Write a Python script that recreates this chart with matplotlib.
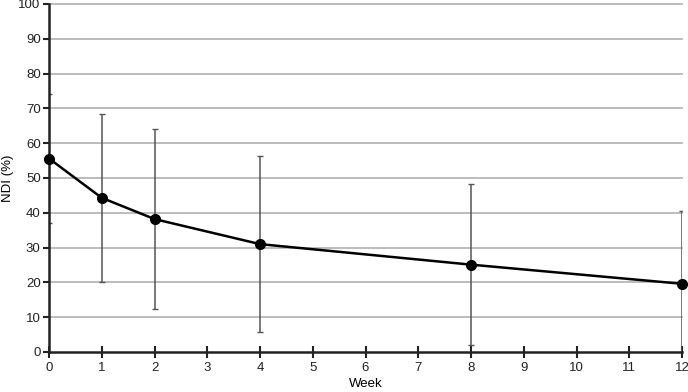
import matplotlib
matplotlib.use("Agg")
import matplotlib.pyplot as plt
import numpy as np

weeks = [0, 1, 2, 4, 8, 12]
ndi_mean = [55.6, 44.3, 38.2, 31.0, 25.1, 19.6]
ndi_sd = [18.6, 24.2, 25.9, 25.2, 23.2, 21.0]

plt.rcParams['font.family'] = ['Liberation Sans', 'DejaVu Sans']

fig = plt.figure(figsize=(6.88, 3.92), dpi=100)
ax = fig.add_axes([49/688, 1-352/392, (682-49)/688, (352-4)/392])

ax.set_xlim(0, 12)
ax.set_ylim(0, 100)
ax.set_yticks(np.arange(0, 101, 10))
ax.set_xticks(np.arange(0, 13, 1))
for yv in np.arange(10, 101, 10):
    ax.plot([0, 12], [yv, yv], color='#b0b0b0', lw=1.2, zorder=1, clip_on=False)

ax.errorbar(weeks, ndi_mean, yerr=ndi_sd, fmt='none', ecolor='#555555',
            elinewidth=1.1, capsize=2, capthick=1.0, zorder=2)
ax.plot(weeks, ndi_mean, color='black', lw=1.8, marker='o', markersize=7, zorder=3,
        clip_on=False)

for s in ['top', 'right']:
    ax.spines[s].set_visible(False)
for s in ['left', 'bottom']:
    ax.spines[s].set_linewidth(1.8)
    ax.spines[s].set_color('#222222')
ax.tick_params(axis='y', direction='out', length=4, width=1.5, labelsize=9.5, colors='#222222', pad=2)
ax.tick_params(axis='x', direction='inout', length=8, width=1.5, labelsize=9.5, colors='#222222', pad=3)
ax.set_xlabel('Week', fontsize=9.5, labelpad=3)
ax.set_ylabel('NDI (%)', fontsize=9.5, labelpad=3)

fig.savefig('out.png', dpi=100)
